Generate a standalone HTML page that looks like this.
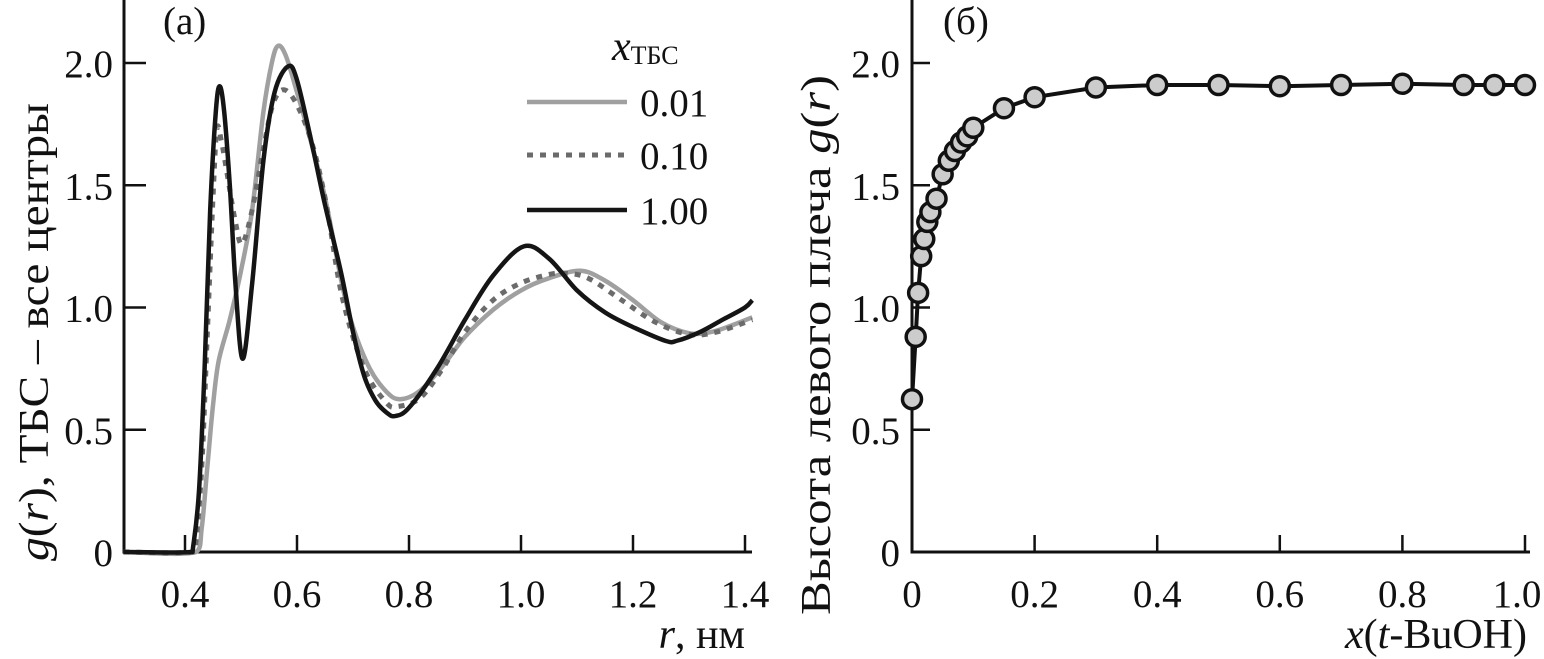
<!DOCTYPE html>
<html><head><meta charset="utf-8"><style>
html,body{margin:0;padding:0;background:#fff;}
svg{display:block;font-family:"Liberation Serif",serif;}
</style></head><body>
<svg id="fig" width="1544" height="659" viewBox="0 0 1544 659" xmlns="http://www.w3.org/2000/svg">
<g id="left"></g>
<g id="right"></g>
</svg>
<script>
// Panel (a) data
const rGray = [0.29,0.42,0.43,0.44,0.45,0.46,0.48,0.50,0.52,0.54,0.555,0.566,0.58,0.60,0.62,0.65,0.68,0.70,0.73,0.76,0.784,0.82,0.86,0.90,0.95,1.00,1.05,1.106,1.15,1.20,1.25,1.30,1.34,1.38,1.413];
const gGray = [0,0,0.1,0.35,0.6,0.78,0.95,1.15,1.4,1.8,2.0,2.07,2.03,1.88,1.72,1.45,1.1,0.92,0.75,0.655,0.625,0.66,0.76,0.88,0.99,1.07,1.12,1.15,1.11,1.03,0.94,0.895,0.9,0.93,0.96];
const rDot = [0.29,0.415,0.42,0.43,0.44,0.45,0.457,0.465,0.475,0.49,0.502,0.52,0.54,0.56,0.585,0.62,0.65,0.68,0.72,0.76,0.78,0.82,0.86,0.90,0.95,1.00,1.05,1.08,1.12,1.18,1.24,1.30,1.35,1.413];
const gDot = [0,0,0.05,0.35,0.9,1.45,1.73,1.68,1.55,1.35,1.26,1.4,1.65,1.85,1.88,1.72,1.45,1.05,0.75,0.61,0.595,0.63,0.75,0.9,1.03,1.10,1.135,1.14,1.12,1.03,0.94,0.89,0.9,0.95];
const rBlack = [0.29,0.41,0.415,0.425,0.435,0.445,0.455,0.462,0.47,0.48,0.49,0.503,0.52,0.54,0.56,0.584,0.60,0.627,0.65,0.679,0.70,0.72,0.74,0.76,0.775,0.80,0.85,0.90,0.95,1.005,1.05,1.10,1.15,1.20,1.259,1.28,1.32,1.36,1.40,1.413];
const gBlack = [0,0,0.03,0.25,0.75,1.4,1.8,1.905,1.8,1.5,1.1,0.79,1.1,1.6,1.88,1.986,1.93,1.665,1.42,1.14,0.9,0.72,0.62,0.57,0.556,0.59,0.75,0.95,1.13,1.25,1.2,1.07,0.98,0.92,0.863,0.865,0.9,0.95,1.0,1.03];
const xTicksA = [0.4,0.6,0.8,1.0,1.2,1.4];
const xTickLabelsA = ["0.4","0.6","0.8","1.0","1.2","1.4"];
const yTicks = [0,0.5,1.0,1.5,2.0];
const yTickLabels = ["0","0.5","1.0","1.5","2.0"];
const legendLabels = ["0.01","0.10","1.00"];
// Panel (b) data
const xB = [0,0.006,0.01,0.015,0.02,0.025,0.03,0.04,0.05,0.06,0.07,0.08,0.09,0.1,0.15,0.2,0.3,0.4,0.5,0.6,0.7,0.8,0.9,0.95,1.0];
const yB = [0.625,0.88,1.06,1.21,1.28,1.35,1.39,1.445,1.545,1.60,1.64,1.675,1.70,1.735,1.815,1.86,1.90,1.91,1.91,1.905,1.91,1.915,1.91,1.91,1.91];
const xTicksB = [0,0.2,0.4,0.6,0.8,1.0];
const xTickLabelsB = ["0","0.2","0.4","0.6","0.8","1.0"];

const NS="http://www.w3.org/2000/svg";
function mk(parent,tag,attrs,text){const e=document.createElementNS(NS,tag);for(const k in attrs)e.setAttribute(k,attrs[k]);if(text!==undefined)e.textContent=text;parent.appendChild(e);return e;}
const yS = v => 552 - v*244.5;
const xA = r => 185 + (r-0.4)*560;
const xBs = x => 912 + x*613;
const FS = 39;

function pathFrom(xs,ys,fx){return xs.map((v,i)=>(i?'L':'M')+fx(v).toFixed(1)+' '+yS(ys[i]).toFixed(1)).join(' ');}
function smoothFrom(xs,ys,fx){
  const p=xs.map((v,i)=>[fx(v),yS(ys[i])]);
  let d='M'+p[0][0].toFixed(1)+' '+p[0][1].toFixed(1);
  const t=0.5/3;
  for(let i=0;i<p.length-1;i++){
    const p0=p[Math.max(0,i-1)],p1=p[i],p2=p[i+1],p3=p[Math.min(p.length-1,i+2)];
    const c1=[p1[0]+(p2[0]-p0[0])*t,p1[1]+(p2[1]-p0[1])*t];
    const c2=[p2[0]-(p3[0]-p1[0])*t,p2[1]-(p3[1]-p1[1])*t];
    c1[0]=Math.min(Math.max(c1[0],p1[0]),p2[0]);c2[0]=Math.min(Math.max(c2[0],p1[0]),p2[0]);
    d+=' C'+c1[0].toFixed(1)+' '+c1[1].toFixed(1)+' '+c2[0].toFixed(1)+' '+c2[1].toFixed(1)+' '+p2[0].toFixed(1)+' '+p2[1].toFixed(1);
  }
  return d;
}

// ---- Panel A
const L=document.getElementById('left');
let ax=mk(L,'path',{d:'M124 0 V552 H752',fill:'none',stroke:'#111','stroke-width':3});


xTicksA.forEach((t,i)=>{
  let tk=mk(L,'line',{x1:xA(t),x2:xA(t),y1:552,y2:535,stroke:'#111','stroke-width':2.5});
  
  
  let lb=mk(L,'text',{x:xA(t),y:607,'font-size':FS,'text-anchor':'middle',fill:'#111'},xTickLabelsA[i]);
  
  
});
yTicks.forEach((t,i)=>{
  if(t>0){let tk=mk(L,'line',{x1:124,x2:146,y1:yS(t),y2:yS(t),stroke:'#111','stroke-width':2.5});
  
  }
  let lb=mk(L,'text',{x:113,y:yS(t)+14,'font-size':FS,'text-anchor':'end',fill:'#111'},yTickLabels[i]);
  
  
});
let s1=mk(L,'path',{d:smoothFrom(rGray,gGray,xA),fill:'none',stroke:'#a0a0a0','stroke-width':4.5,'stroke-linejoin':'round'});


let s2=mk(L,'path',{d:smoothFrom(rDot,gDot,xA),fill:'none',stroke:'#6b6b6b','stroke-width':5,'stroke-dasharray':'6 7'});


let s3=mk(L,'path',{d:smoothFrom(rBlack,gBlack,xA),fill:'none',stroke:'#151515','stroke-width':4.5,'stroke-linejoin':'round'});


// legend
let lt=mk(L,'text',{x:612,y:60,'font-size':42,fill:'#111'});


mk(lt,'tspan',{'font-style':'italic'},'x');
mk(lt,'tspan',{'font-size':26,dy:4},'ТБС');
const legY=[102,155,210];
const legStyles=[{stroke:'#a0a0a0','stroke-width':4.5},{stroke:'#6b6b6b','stroke-width':5,'stroke-dasharray':'6 7'},{stroke:'#151515','stroke-width':4.5}];
legendLabels.forEach((lab,i)=>{
  let ln=mk(L,'line',Object.assign({x1:527,x2:627,y1:legY[i],y2:legY[i]},legStyles[i]));
  
  
  let tx=mk(L,'text',{x:640,y:legY[i]+14,'font-size':FS,fill:'#111'},lab);
  
  
});
let pa=mk(L,'text',{x:163,y:34,'font-size':FS,fill:'#111'},'(a)');


let xt=mk(L,'text',{x:745,y:648,'font-size':42,'text-anchor':'end',fill:'#111'});


mk(xt,'tspan',{'font-style':'italic'},'r');
mk(xt,'tspan',{},', нм');
let yt=mk(L,'text',{x:0,y:0,'font-size':42,'text-anchor':'middle',fill:'#111',transform:'translate(48,332) rotate(-90)',textLength:458,lengthAdjust:'spacingAndGlyphs'});


mk(yt,'tspan',{'font-style':'italic'},'g');
mk(yt,'tspan',{},'(');
mk(yt,'tspan',{'font-style':'italic'},'r');
mk(yt,'tspan',{},'), ТБС – все центры');

// ---- Panel B
const R=document.getElementById('right');
let bx=mk(R,'path',{d:'M912 0 V552 H1530',fill:'none',stroke:'#111','stroke-width':3});


xTicksB.forEach((t,i)=>{
  if(t>0){let tk=mk(R,'line',{x1:xBs(t),x2:xBs(t),y1:552,y2:535,stroke:'#111','stroke-width':2.5});
  
  }
  let lb=mk(R,'text',{x:xBs(t)-(t===1?8:0),y:607,'font-size':FS,'text-anchor':'middle',fill:'#111'},xTickLabelsB[i]);
  
  
});
yTicks.forEach((t,i)=>{
  if(t>0){let tk=mk(R,'line',{x1:912,x2:930,y1:yS(t),y2:yS(t),stroke:'#111','stroke-width':2.5});
  
  }
  let lb=mk(R,'text',{x:900,y:yS(t)+14,'font-size':FS,'text-anchor':'end',fill:'#111'},yTickLabels[i]);
  
  
});
let cl=mk(R,'path',{d:pathFrom(xB,yB,xBs),fill:'none',stroke:'#111','stroke-width':4});


xB.forEach((x,i)=>{
  let c=mk(R,'circle',{cx:xBs(x),cy:yS(yB[i]),r:9.5,fill:'#cccccc',stroke:'#111','stroke-width':3.5});
  
  
});
let pb=mk(R,'text',{x:943,y:34,'font-size':FS,fill:'#111'},'(б)');


let xt2=mk(R,'text',{x:1527,y:648,'font-size':42,'text-anchor':'end',fill:'#111'});


mk(xt2,'tspan',{'font-style':'italic'},'x');
mk(xt2,'tspan',{},'(');
mk(xt2,'tspan',{'font-style':'italic'},'t');
mk(xt2,'tspan',{},'-BuOH)');
let yt2=mk(R,'text',{x:0,y:0,'font-size':42,'text-anchor':'middle',fill:'#111',transform:'translate(830,345) rotate(-90)',textLength:540,lengthAdjust:'spacingAndGlyphs'});


mk(yt2,'tspan',{},'Высота левого плеча ');
mk(yt2,'tspan',{'font-style':'italic'},'g');
mk(yt2,'tspan',{},'(');
mk(yt2,'tspan',{'font-style':'italic'},'r');
mk(yt2,'tspan',{},')');
</script>
</body></html>
